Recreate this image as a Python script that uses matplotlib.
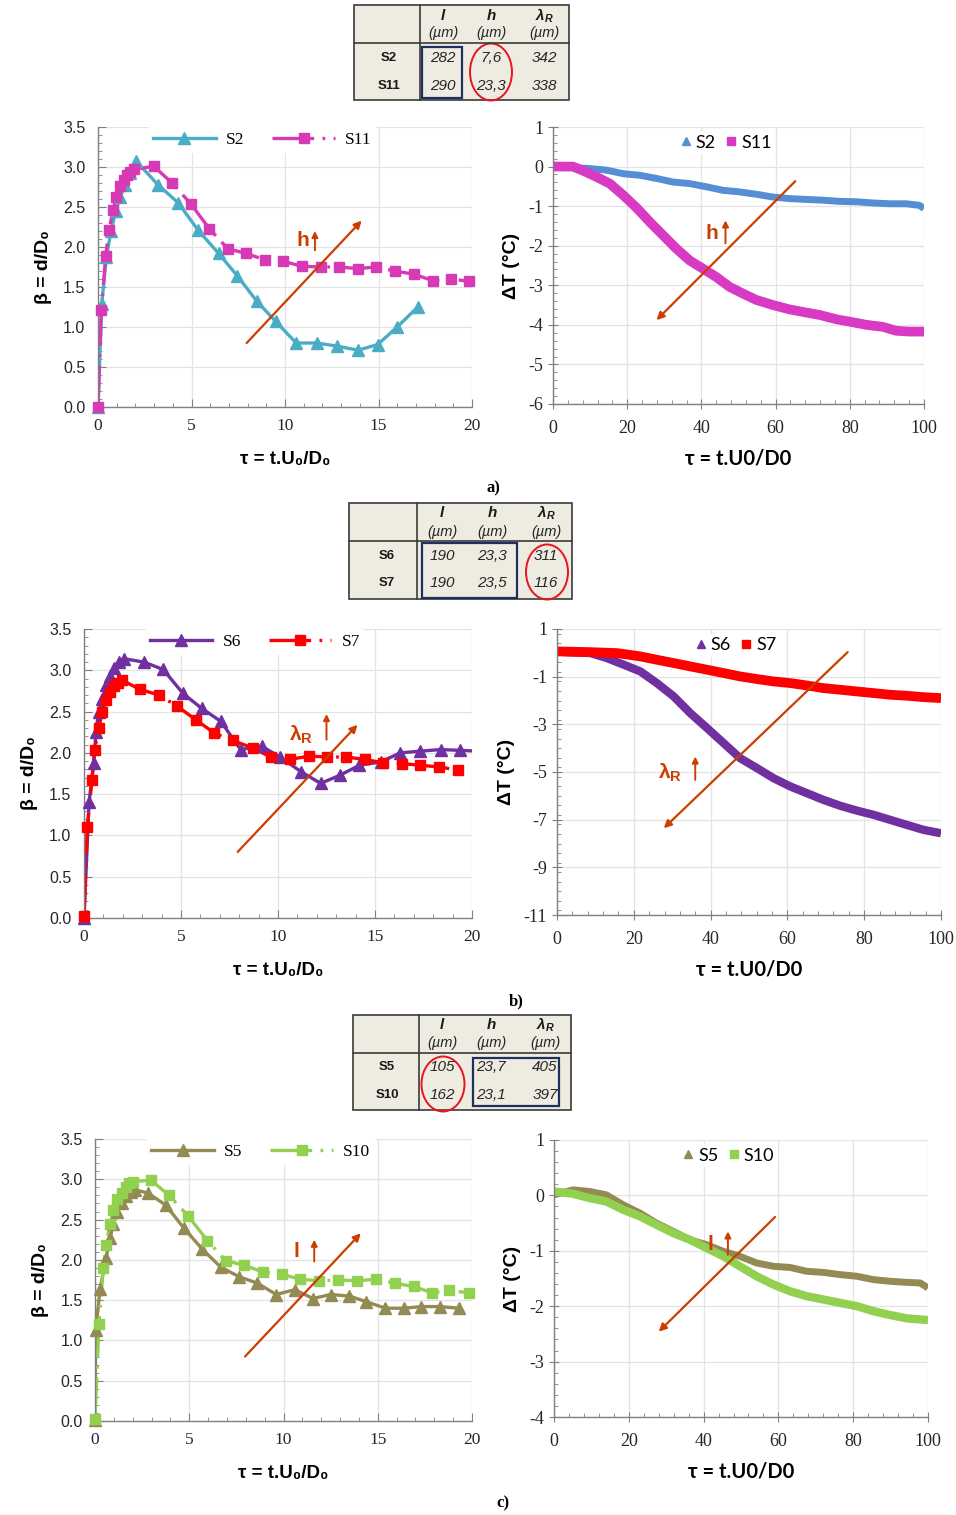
# -*- coding: utf-8 -*-
"""
Spreading ratio and temperature drop for three pairs of textured surfaces, with the geometry tables
"""

import matplotlib

matplotlib.use("Agg")  # Render without a display
import matplotlib.pyplot as plt
from matplotlib.lines import Line2D
from matplotlib.patches import Ellipse, Rectangle
from matplotlib.ticker import FormatStrFormatter, MultipleLocator

plt.rcParams["axes.unicode_minus"] = False
plt.rcParams["lines.scale_dashes"] = False

W, H = 956, 1515
SANS = ["Liberation Sans", "DejaVu Sans"]
SERIF = ["Liberation Serif", "DejaVu Serif"]
CALI = ["Lato", "DejaVu Sans"]
ARROW = "#CC3D00"
DASH = (30, 6, 2, 6)

# a) spreading ratio, S2 and S11
S2_TAU = [0.0, 0.2, 0.45, 0.7, 0.95, 1.2, 1.45, 1.7, 2.05, 3.2, 4.3, 5.35, 6.45, 7.45, 8.5, 9.5, 10.6, 11.7, 12.8, 13.9, 14.95, 16.0, 17.1]
S2_BETA = [0.0, 1.29, 1.88, 2.2, 2.45, 2.63, 2.78, 2.93, 3.07, 2.78, 2.55, 2.21, 1.92, 1.64, 1.32, 1.07, 0.80, 0.80, 0.76, 0.71, 0.78, 1.00, 1.25]
S11_TAU = [0.0, 0.18, 0.41, 0.59, 0.8, 0.98, 1.2, 1.38, 1.57, 1.73, 1.93, 2.98, 3.96, 4.96, 5.95, 6.93, 7.91, 8.93, 9.91, 10.9, 11.9, 12.9, 13.9, 14.86, 15.86, 16.9, 17.9, 18.9, 19.86]
S11_BETA = [0.0, 1.21, 1.89, 2.21, 2.46, 2.63, 2.76, 2.84, 2.90, 2.94, 2.97, 3.01, 2.80, 2.54, 2.23, 1.98, 1.92, 1.84, 1.82, 1.76, 1.75, 1.75, 1.73, 1.75, 1.70, 1.66, 1.58, 1.60, 1.57]

# a) temperature drop, S2 and S11
S2_DT_TAU = [0, 9.9, 14.4, 18.9, 23.4, 27.9, 32.3, 36.8, 41.3, 45.8, 50.3, 54.8, 59.3, 63.8, 68.3, 72.8, 77.3, 81.8, 86.3, 90.7, 95.2, 98.8, 100]
S2_DT = [0.0, -0.05, -0.09, -0.18, -0.22, -0.30, -0.39, -0.43, -0.51, -0.60, -0.64, -0.70, -0.77, -0.81, -0.83, -0.85, -0.88, -0.89, -0.92, -0.94, -0.94, -0.98, -1.06]
S11_DT_TAU = [0, 5.4, 8.0, 11.7, 15.3, 18.9, 22.5, 26.1, 29.6, 33.2, 36.8, 40.4, 44.0, 47.6, 51.2, 54.8, 59.3, 63.8, 68.3, 71.9, 76.4, 80.0, 84.5, 88.9, 92.5, 96.1, 100]
S11_DT = [0.0, 0.0, -0.1, -0.26, -0.43, -0.72, -1.04, -1.40, -1.73, -2.07, -2.37, -2.58, -2.79, -3.04, -3.21, -3.37, -3.50, -3.61, -3.69, -3.75, -3.86, -3.92, -4.0, -4.05, -4.15, -4.17, -4.17]

# b) spreading ratio, S6 and S7
S6_TAU = [0.0, 0.26, 0.5, 0.62, 0.75, 0.95, 1.15, 1.35, 1.55, 1.78, 2.05, 3.08, 4.08, 5.1, 6.06, 7.06, 8.07, 9.16, 10.1, 11.2, 12.2, 13.2, 14.2, 15.3, 16.3, 17.3, 18.4, 19.4, 20.4]
S6_BETA = [0.0, 1.40, 1.88, 2.25, 2.5, 2.65, 2.82, 2.93, 3.03, 3.10, 3.14, 3.10, 3.01, 2.72, 2.54, 2.38, 2.04, 2.08, 1.95, 1.77, 1.63, 1.73, 1.85, 1.89, 2.0, 2.02, 2.04, 2.03, 2.02]
S7_TAU = [0.0, 0.17, 0.41, 0.55, 0.76, 0.95, 1.12, 1.33, 1.55, 1.76, 1.96, 2.87, 3.87, 4.77, 5.77, 6.71, 7.66, 8.69, 9.62, 10.6, 11.6, 12.55, 13.5, 14.5, 15.4, 16.4, 17.3, 18.3, 19.3]
S7_BETA = [0.03, 1.10, 1.67, 2.04, 2.30, 2.50, 2.64, 2.74, 2.81, 2.85, 2.88, 2.77, 2.70, 2.57, 2.40, 2.24, 2.15, 2.06, 1.95, 1.92, 1.96, 1.95, 1.95, 1.92, 1.88, 1.87, 1.85, 1.83, 1.79]

# b) temperature drop, S6 and S7
S6_DT_TAU = [0, 8.7, 13.0, 17.4, 21.7, 26.0, 30.4, 34.7, 39.1, 43.4, 47.7, 52.1, 56.4, 60.8, 65.1, 69.4, 73.8, 78.1, 82.5, 86.8, 91.1, 95.5, 100]
S6_DT = [0.05, -0.01, -0.22, -0.50, -0.78, -1.27, -1.83, -2.53, -3.16, -3.79, -4.42, -4.84, -5.26, -5.61, -5.89, -6.17, -6.42, -6.62, -6.80, -7.01, -7.22, -7.43, -7.57]
S7_DT_TAU = [0, 8.7, 15.6, 21.7, 26.0, 30.4, 34.7, 39.1, 43.4, 47.7, 52.1, 56.4, 60.8, 65.1, 69.4, 73.8, 78.1, 82.5, 86.8, 91.1, 95.5, 100]
S7_DT = [0.06, 0.03, -0.01, -0.15, -0.29, -0.43, -0.57, -0.71, -0.85, -0.99, -1.10, -1.20, -1.27, -1.37, -1.48, -1.55, -1.62, -1.69, -1.76, -1.80, -1.86, -1.90]

# c) spreading ratio, S5 and S10
S5_TAU = [0.0, 0.04, 0.27, 0.58, 0.8, 0.97, 1.19, 1.42, 1.65, 1.89, 2.12, 2.8, 3.75, 4.73, 5.7, 6.67, 7.65, 8.62, 9.61, 10.6, 11.56, 12.5, 13.5, 14.4, 15.4, 16.4, 17.3, 18.3, 19.3]
S5_BETA = [0.01, 1.13, 1.64, 2.02, 2.27, 2.44, 2.60, 2.71, 2.79, 2.84, 2.87, 2.83, 2.68, 2.39, 2.13, 1.91, 1.79, 1.71, 1.57, 1.63, 1.52, 1.57, 1.55, 1.48, 1.40, 1.40, 1.42, 1.42, 1.40]
S10_TAU = [0.0, 0.21, 0.44, 0.58, 0.8, 0.97, 1.19, 1.42, 1.63, 1.82, 2.04, 2.96, 3.93, 4.96, 5.96, 6.94, 7.93, 8.9, 9.9, 10.9, 11.9, 12.9, 13.9, 14.9, 15.9, 16.9, 17.9, 18.8, 19.86]
S10_BETA = [0.03, 1.21, 1.90, 2.19, 2.44, 2.62, 2.75, 2.83, 2.91, 2.95, 2.97, 2.99, 2.80, 2.54, 2.24, 1.99, 1.93, 1.85, 1.82, 1.76, 1.74, 1.75, 1.74, 1.76, 1.71, 1.67, 1.59, 1.62, 1.59]

# c) temperature drop, S5 and S10
S5_DT_TAU = [0, 5.1, 9.6, 14.0, 18.5, 23.0, 27.4, 31.9, 36.3, 40.8, 45.3, 49.7, 54.2, 58.7, 63.1, 67.6, 72.1, 76.5, 81.0, 85.4, 89.9, 94.4, 97.9, 100]
S5_DT = [0.01, 0.1, 0.07, 0.01, -0.17, -0.32, -0.50, -0.65, -0.80, -0.89, -1.01, -1.10, -1.22, -1.28, -1.30, -1.37, -1.39, -1.43, -1.46, -1.52, -1.55, -1.57, -1.58, -1.67]
S10_DT_TAU = [0, 5.1, 9.6, 14.0, 18.5, 23.0, 27.4, 31.9, 36.3, 40.8, 45.3, 49.7, 54.2, 58.7, 63.1, 67.6, 72.1, 76.5, 81.0, 85.4, 89.9, 94.4, 100]
S10_DT = [0.07, 0.03, -0.05, -0.11, -0.26, -0.38, -0.53, -0.68, -0.80, -0.95, -1.10, -1.28, -1.46, -1.61, -1.73, -1.82, -1.88, -1.94, -2.0, -2.09, -2.16, -2.22, -2.25]

# geometry tables, one row per surface
TABLE_A = {"rows": ["S2", "S11"], "l": ["282", "290"], "h": ["7,6", "23,3"], "lr": ["342", "338"]}
TABLE_B = {"rows": ["S6", "S7"], "l": ["190", "190"], "h": ["23,3", "23,5"], "lr": ["311", "116"]}
TABLE_C = {"rows": ["S5", "S10"], "l": ["105", "162"], "h": ["23,7", "23,1"], "lr": ["405", "397"]}

fig = plt.figure(figsize=(W / 100, H / 100), dpi=100)
overlay = fig.add_axes([0, 0, 1, 1], zorder=-1)
overlay.set_xlim(0, W)
overlay.set_ylim(H, 0)
overlay.axis("off")


def px_rect(x0, y0, x1, y1):
    """Axes rectangle in figure fraction from pixel corners"""
    return [x0 / W, 1 - y1 / H, (x1 - x0) / W, (y1 - y0) / H]


def style_axes(ax):
    """Excel like frame: left and bottom spines, light grid, inward ticks"""
    for side in ("top", "right"):
        ax.spines[side].set_visible(False)
    for side in ("left", "bottom"):
        ax.spines[side].set_color("#808080")
        ax.spines[side].set_linewidth(1.0)
    ax.grid(True, which="major", color="#E3E3E3", lw=0.9)
    ax.set_axisbelow(True)
    ax.tick_params(which="both", color="#808080", labelcolor="#262626")


def up_arrow(ax, x, y0, y1):
    ax.annotate("", xy=(x, y1), xytext=(x, y0),
                arrowprops=dict(arrowstyle="-|>", color=ARROW, lw=1.4, mutation_scale=9, shrinkA=0, shrinkB=0))


def beta_panel(rect, tri, sq, colors, names, arrow, tag, tag_xy, up):
    ax = fig.add_axes(rect)
    style_axes(ax)
    for (tau, beta), color, marker, ms, dashes in ((tri, colors[0], "^", 9, None), (sq, colors[1], "s", 7.5, DASH)):
        line, = ax.plot(tau, beta, color=color, lw=2.4)
        if dashes:
            line.set_dashes(dashes)
        inside = [(t, b) for t, b in zip(tau, beta) if t <= 20]
        ax.plot([p[0] for p in inside], [p[1] for p in inside], ls="none", marker=marker, ms=ms,
                color=color, clip_on=False, zorder=3)
    ax.set_xlim(0, 20)
    ax.set_ylim(0, 3.5)
    ax.xaxis.set_major_locator(MultipleLocator(5))
    ax.xaxis.set_minor_locator(MultipleLocator(1))
    ax.yaxis.set_major_locator(MultipleLocator(0.5))
    ax.yaxis.set_minor_locator(MultipleLocator(0.1))
    ax.yaxis.set_major_formatter(FormatStrFormatter("%.1f"))
    ax.tick_params(which="major", direction="in", length=6)
    ax.tick_params(which="minor", direction="in", length=3)
    ax.tick_params(axis="x", pad=8)
    ax.tick_params(axis="y", pad=9)
    for lab in ax.get_xticklabels():
        lab.set_family(SERIF)
        lab.set_fontsize(12.5)
    for lab in ax.get_yticklabels():
        lab.set_family(SANS)
        lab.set_fontsize(11.5)
    ax.set_ylabel("β = d/D₀", family=SANS, fontsize=14, fontweight="bold", labelpad=8)
    ax.set_xlabel("τ = t.U₀/D₀", family=SANS, fontsize=13.5, fontweight="bold", labelpad=12)
    handles = [Line2D([], [], color=colors[0], lw=2.4, marker="^", ms=9),
               Line2D([], [], color=colors[1], lw=2.4, marker="s", ms=7.5, dashes=DASH)]
    ax.legend(handles, names, loc="center", bbox_to_anchor=(0.44, 0.955), ncol=2, frameon=True,
              facecolor="white", edgecolor="none", framealpha=1, prop={"family": SERIF, "size": 12.5},
              handlelength=3.6, columnspacing=1.6, handletextpad=0.6, borderpad=0.3)
    ax.annotate("", xy=arrow[1], xytext=arrow[0],
                arrowprops=dict(arrowstyle="-|>", color=ARROW, lw=1.6, mutation_scale=11, shrinkA=0, shrinkB=0))
    ax.text(tag_xy[0], tag_xy[1], tag, color=ARROW, family=SANS, fontsize=15, fontweight="bold",
            ha="center", va="center")
    up_arrow(ax, *up)
    return ax


def dt_panel(rect, tri, sq, colors, widths, names, ylim, ymajor, yminor, arrow, tag, tag_xy, up):
    ax = fig.add_axes(rect)
    style_axes(ax)
    ax.plot(tri[0], tri[1], color=colors[0], lw=widths[0], solid_capstyle="butt", solid_joinstyle="round")
    ax.plot(sq[0], sq[1], color=colors[1], lw=widths[1], solid_capstyle="butt", solid_joinstyle="round")
    ax.set_xlim(0, 100)
    ax.set_ylim(*ylim)
    ax.xaxis.set_major_locator(MultipleLocator(20))
    ax.xaxis.set_minor_locator(MultipleLocator(4))
    ax.yaxis.set_major_locator(MultipleLocator(ymajor, offset=ylim[1] % ymajor))
    ax.yaxis.set_minor_locator(MultipleLocator(yminor))
    ax.tick_params(which="major", direction="inout", length=7)
    ax.tick_params(which="minor", direction="in", length=3)
    ax.tick_params(axis="x", pad=8)
    for lab in ax.get_xticklabels() + ax.get_yticklabels():
        lab.set_family(SERIF)
        lab.set_fontsize(13)
    ax.set_ylabel("ΔT (°C)", family=SANS, fontsize=14, fontweight="bold", labelpad=6)
    ax.set_xlabel("τ = t.U0/D0", family=CALI, fontsize=14.5, fontweight="bold", labelpad=8)
    handles = [Line2D([], [], ls="none", color=colors[0], marker="^", ms=6),
               Line2D([], [], ls="none", color=colors[1], marker="s", ms=6)]
    ax.legend(handles, names, loc="center", bbox_to_anchor=(0.465, 0.943), ncol=2, frameon=True,
              facecolor="white", edgecolor="none", framealpha=1, prop={"family": CALI, "size": 13},
              handlelength=0.7, columnspacing=0.5, handletextpad=0.2, borderpad=0.2)
    ax.annotate("", xy=arrow[1], xytext=arrow[0],
                arrowprops=dict(arrowstyle="-|>", color=ARROW, lw=1.6, mutation_scale=11, shrinkA=0, shrinkB=0))
    ax.text(tag_xy[0], tag_xy[1], tag, color=ARROW, family=SANS, fontsize=15, fontweight="bold",
            ha="center", va="center")
    up_arrow(ax, *up)
    return ax


def draw_table(table, box, split_x, head_y, col_x, head_rows, row_y, label_x, blue, red):
    """Geometry table drawn in pixel coordinates on the overlay"""
    x0, y0, x1, y1 = box
    overlay.add_patch(Rectangle((x0, y0), x1 - x0, y1 - y0, facecolor="#EEECE1", edgecolor="#3A3A3A", lw=1.2))
    overlay.plot([split_x, split_x], [y0, y1], color="#3A3A3A", lw=1.2)
    overlay.plot([x0, x1], [head_y, head_y], color="#3A3A3A", lw=1.2)
    for x, name in zip(col_x, ["l", "h", r"λ$_\mathregular{R}$"]):
        overlay.text(x, head_rows[0], name, ha="center", va="center", family=SANS, fontsize=11,
                     fontweight="bold", style="italic", color="#1A1A1A")
        overlay.text(x, head_rows[1], "(µm)", ha="center", va="center", family=SANS, fontsize=10.5,
                     style="italic", color="#262626")
    for i, y in enumerate(row_y):
        overlay.text(label_x, y, table["rows"][i], ha="center", va="center", family=SANS, fontsize=9.5,
                     fontweight="bold", color="#1A1A1A")
        for x, key in zip(col_x, ("l", "h", "lr")):
            overlay.text(x, y, table[key][i], ha="center", va="center", family=SANS, fontsize=11,
                         style="italic", color="#262626")
    bx0, by0, bx1, by1 = blue
    overlay.add_patch(Rectangle((bx0, by0), bx1 - bx0, by1 - by0, facecolor="none", edgecolor="#1F2F5F", lw=1.6))
    cx, cy, ew, eh = red
    overlay.add_patch(Ellipse((cx, cy), ew, eh, facecolor="none", edgecolor="#E8141E", lw=1.4))


# a)
draw_table(TABLE_A, (354, 5, 569, 100), 420, 43, (443, 491, 544), (16, 33), (58, 86), 389,
           (422, 47, 462, 98), (491, 72, 42, 57))
beta_panel(px_rect(98, 127, 472, 407), (S2_TAU, S2_BETA), (S11_TAU, S11_BETA), ("#4BACC6", "#D63AB4"),
           ["S2", "S11"], ((7.95, 0.80), (14.1, 2.33)), "h", (10.95, 2.08), (11.6, 1.96, 2.2))
dt_panel(px_rect(553, 127, 924, 404), (S2_DT_TAU, S2_DT), (S11_DT_TAU, S11_DT), ("#558ED5", "#D93AC4"),
         (5.0, 7.0), ["S2", "S11"], (-6, 1), 1, 0.2, ((65.3, -0.37), (27.9, -3.88)), "h", (42.9, -1.69),
         (46.5, -1.94, -1.36))
overlay.text(493, 488, "a)", ha="center", va="center", family=SERIF, fontsize=12, fontweight="bold")

# b)
draw_table(TABLE_B, (349, 503, 572, 599), 417, 541, (442, 492, 546), (513, 532), (556, 583), 387,
           (422, 543, 517, 598), (547, 572, 42, 55))
beta_panel(px_rect(84, 629, 472, 918), (S6_TAU, S6_BETA), (S7_TAU, S7_BETA), ("#7030A0", "#FF0000"),
           ["S6", "S7"], ((7.92, 0.80), (14.1, 2.34)), r"λ$_\mathregular{R}$", (11.2, 2.22),
           (12.5, 2.16, 2.47))
dt_panel(px_rect(557, 629, 941, 915), (S6_DT_TAU, S6_DT), (S7_DT_TAU, S7_DT), ("#7030A0", "#FF0000"),
         (6.0, 7.0), ["S6", "S7"], (-11, 1), 2, 0.4, ((75.7, 0.03), (27.8, -7.36)), r"λ$_\mathregular{R}$",
         (29.5, -5.05), (36.0, -5.33, -4.35))
overlay.text(516, 1001, "b)", ha="center", va="center", family=SERIF, fontsize=12, fontweight="bold")

# c)
draw_table(TABLE_C, (353, 1015, 571, 1110), 419, 1053, (442, 491, 545), (1025, 1043), (1067, 1095), 387,
           (473, 1058, 559, 1106), (443, 1084, 43, 55))
beta_panel(px_rect(95, 1139, 472, 1421), (S5_TAU, S5_BETA), (S10_TAU, S10_BETA), ("#948A54", "#92D050"),
           ["S5", "S10"], ((7.96, 0.80), (14.1, 2.33)), "l", (10.7, 2.10), (11.63, 1.98, 2.25))
dt_panel(px_rect(554, 1140, 928, 1417), (S5_DT_TAU, S5_DT), (S10_DT_TAU, S10_DT), ("#948A54", "#92D050"),
         (5.0, 6.0), ["S5", "S10"], (-4, 1), 1, 0.2, ((59.1, -0.39), (28.0, -2.46)), "l", (41.7, -0.89),
         (46.5, -1.07, -0.65))
overlay.text(503, 1503, "c)", ha="center", va="center", family=SERIF, fontsize=12, fontweight="bold")

fig.savefig("out.png", dpi=100)
